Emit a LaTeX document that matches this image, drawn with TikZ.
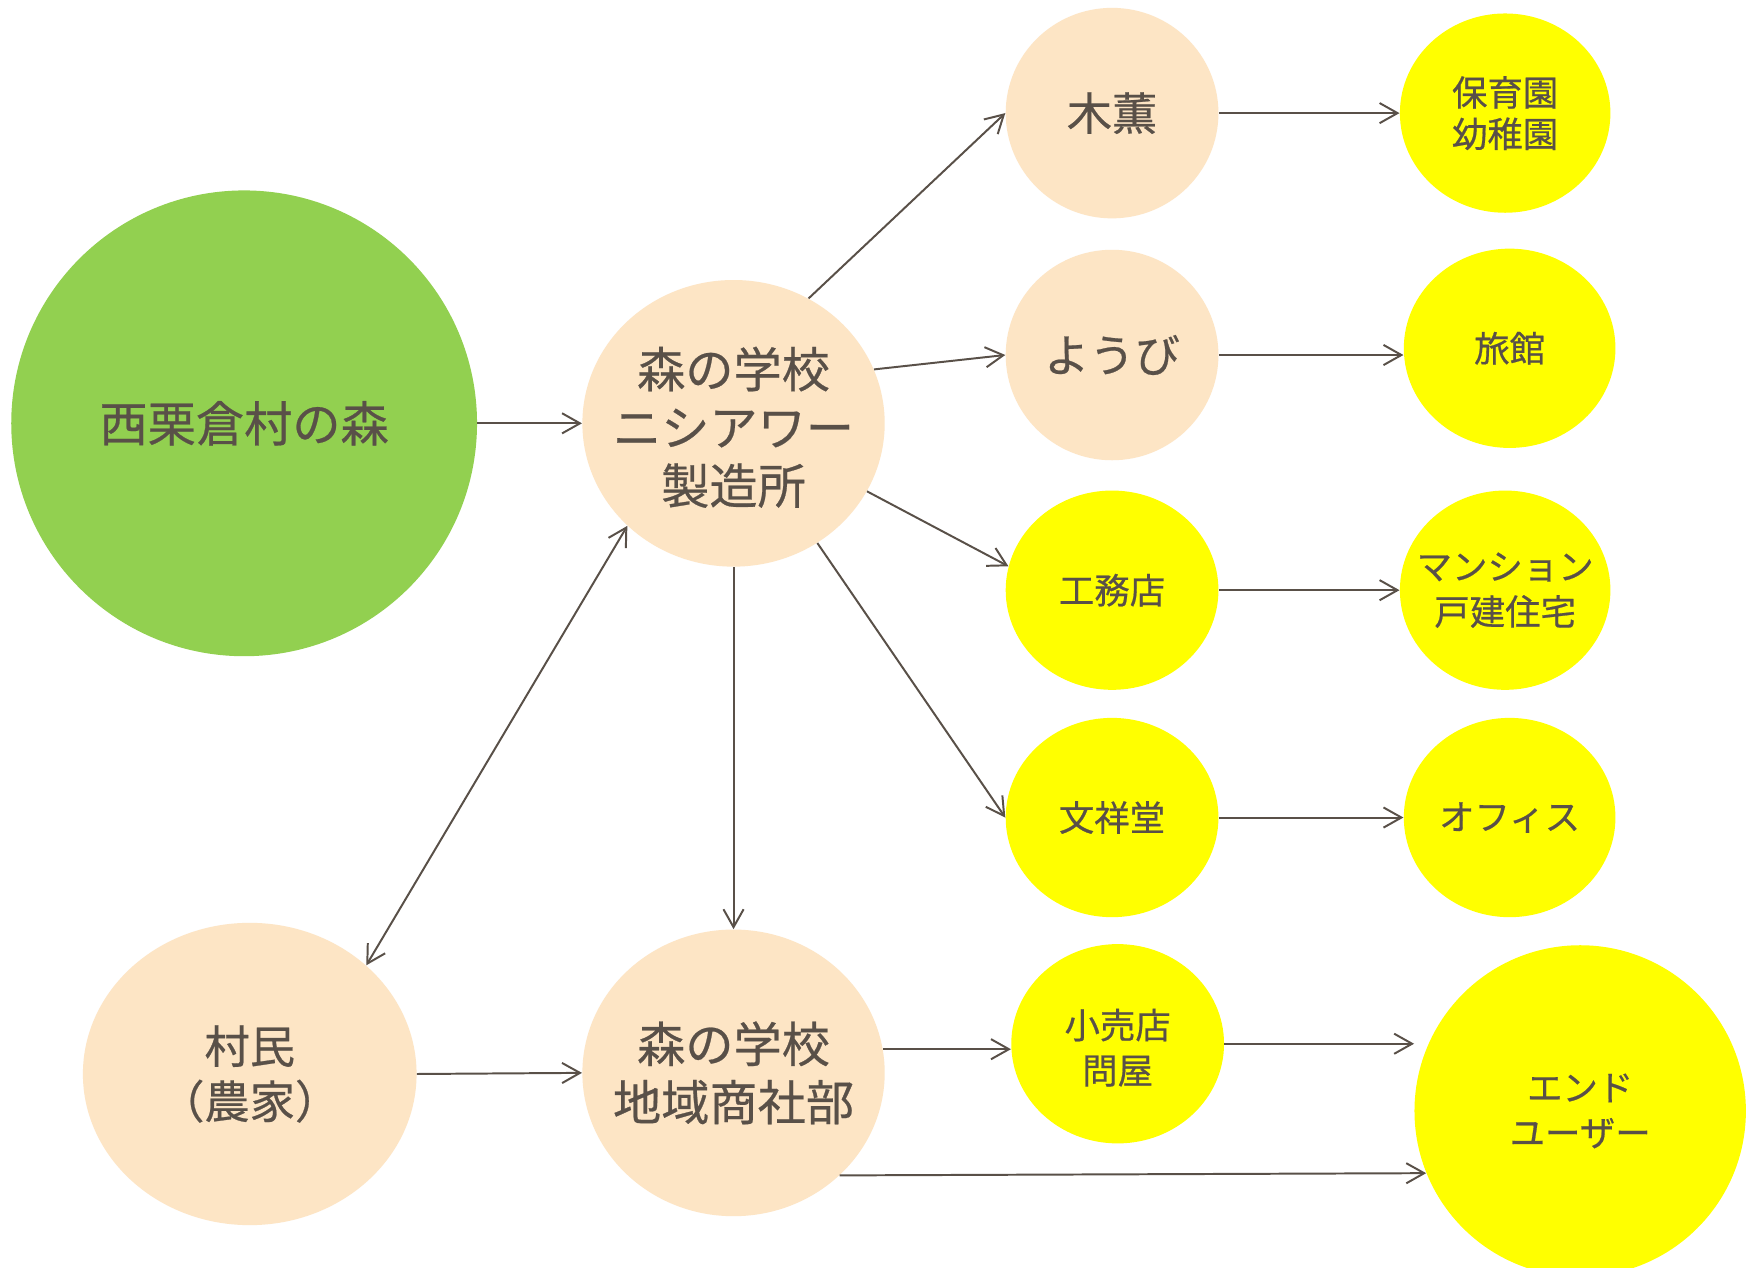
\documentclass[tikz,border=0pt]{standalone}
\usepackage{fontspec}
\setmainfont{Noto Sans CJK JP}[FakeBold=0.5]
\usetikzlibrary{shapes.geometric,arrows.meta}
\definecolor{ink}{HTML}{595048}
\definecolor{leaf}{HTML}{92D050}
\definecolor{peach}{HTML}{FDE5C5}
\definecolor{lemon}{HTML}{FFFF00}
\tikzset{
  blob/.style={ellipse, inner sep=0pt, draw=none},
  lbl/.style={text=ink, align=center, inner sep=0pt},
  fz24/.style={font=\fontsize{24.5pt}{29.6pt}\selectfont},
  fz23/.style={font=\fontsize{23pt}{28pt}\selectfont},
  fz18/.style={font=\fontsize{18pt}{23pt}\selectfont},
  fz18t/.style={font=\fontsize{18pt}{21pt}\selectfont},
  arr/.style={draw=ink, line width=1pt, -{Straight Barb[length=3.2mm,width=3.6mm]}},
  arrboth/.style={draw=ink, line width=1pt, {Straight Barb[length=3.2mm,width=3.6mm]}-{Straight Barb[length=3.2mm,width=3.6mm]}}
}
\begin{document}
\begin{tikzpicture}[x=0.02cm, y=-0.02cm]
\clip (0,0) rectangle (1568,1132);
\fill[white] (0,0) rectangle (1568,1132);
% shapes
\node[blob, fill=leaf, minimum width=8.32cm, minimum height=8.32cm] (forest) at (218,378) {};
\node[blob, fill=peach, minimum width=5.4cm, minimum height=5.12cm] (mfg) at (655,378) {};
\node[blob, fill=peach, minimum width=3.8cm, minimum height=3.76cm] (mokkun) at (993,101) {};
\node[blob, fill=lemon, minimum width=3.76cm, minimum height=3.56cm] (hoiku) at (1344,101) {};
\node[blob, fill=peach, minimum width=3.8cm, minimum height=3.76cm] (youbi) at (993,317) {};
\node[blob, fill=lemon, minimum width=3.78cm, minimum height=3.56cm] (ryokan) at (1348,311) {};
\node[blob, fill=lemon, minimum width=3.8cm, minimum height=3.56cm] (koumu) at (993,527) {};
\node[blob, fill=lemon, minimum width=3.76cm, minimum height=3.56cm] (mansion) at (1344,527) {};
\node[blob, fill=lemon, minimum width=3.8cm, minimum height=3.56cm] (bunsho) at (993,730) {};
\node[blob, fill=lemon, minimum width=3.78cm, minimum height=3.56cm] (office) at (1348,730) {};
\node[blob, fill=peach, minimum width=5.96cm, minimum height=5.4cm] (sonmin) at (223,959) {};
\node[blob, fill=peach, minimum width=5.4cm, minimum height=5.12cm] (shosha) at (655,958) {};
\node[blob, fill=lemon, minimum width=3.8cm, minimum height=3.56cm] (kouri) at (998,932) {};
\node[blob, fill=lemon, minimum width=5.92cm, minimum height=5.92cm] (enduser) at (1411,992) {};
% labels
\node[lbl, fz24] (forestT) at (forest.center) {西栗倉村の森};
\node[lbl, fz24] (mfgT) at ([yshift=-2pt]mfg.center) {森の学校\\ニシアワー\\製造所};
\node[lbl, fz23] (mokkunT) at (mokkun.center) {木薫};
\node[lbl, fz18t] (hoikuT) at (hoiku.center) {保育園\\幼稚園};
\node[lbl, fz23] (youbiT) at (youbi.center) {ようび};
\node[lbl, fz18] (ryokanT) at (ryokan.center) {旅館};
\node[lbl, fz18] (koumuT) at (koumu.center) {工務店};
\node[lbl, fz18] (mansionT) at (mansion.center) {マンション\\戸建住宅};
\node[lbl, fz18] (bunshoT) at (bunsho.center) {文祥堂};
\node[lbl, fz18] (officeT) at (office.center) {オフィス};
\node[lbl, fz23] (sonminT) at (sonmin.center) {村民\\（農家）};
\node[lbl, fz24] (shoshaT) at (shosha.center) {森の学校\\地域商社部};
\node[lbl, fz18] (kouriT) at ([yshift=-2pt]kouri.center) {小売店\\問屋};
\node[lbl, fz18] (enduserT) at (enduser.center) {エンド\\ユーザー};
% connectors
\draw[arr] (forest.east) -- (mfg.west);
\draw[arr] (mfg.59) -- (mokkun.west);
\draw[arr] (mfg.21) -- (youbi.west);
\draw[arr] (mfg.-27) -- (koumu.167);
\draw[arr] (mfg.-55) -- (bunsho.west);
\draw[arr] (mfg.south) -- (shosha.north);
\draw[arrboth] (mfg.224) -- (sonmin.43);
\draw[arr] (sonmin.east) -- (shosha.west);
\draw[arr] (shosha.9) -- (shosha.9 -| kouri.west);
\draw[arr] (kouri.east) -- (kouri.east -| enduser.west);
\draw[arr] (shosha.-44) -- (enduser.202);
\draw[arr] (mokkun.east) -- (hoiku.west);
\draw[arr] (youbi.east) -- (youbi.east -| ryokan.west);
\draw[arr] (koumu.east) -- (mansion.west);
\draw[arr] (bunsho.east) -- (office.west);
\end{tikzpicture}
\end{document}
